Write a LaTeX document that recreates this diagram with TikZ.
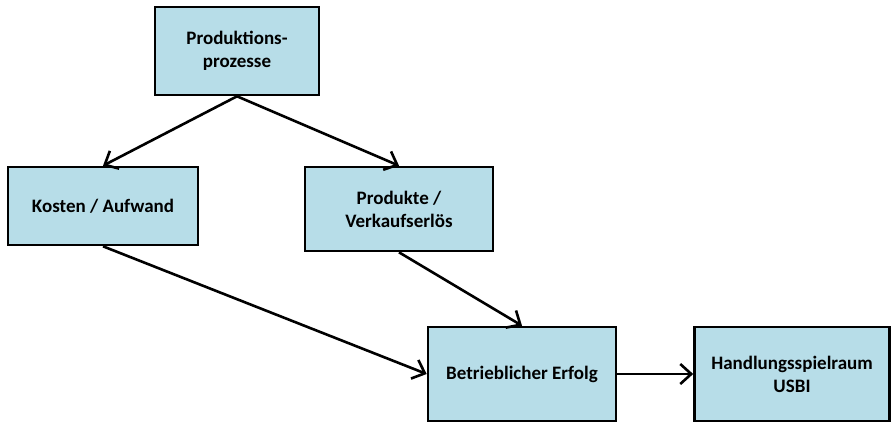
\documentclass[tikz,border=0pt]{standalone}
\usepackage{fontspec}
\setmainfont{Carlito}
\usetikzlibrary{arrows.meta}
\definecolor{boxfill}{HTML}{B7DDE8}
\tikzset{
  box/.style={draw=black, line width=2.6pt, fill=boxfill, rectangle, inner sep=0pt,
    align=center, font=\fontsize{19}{23}\selectfont\bfseries},
  conn/.style={line width=2.6pt, -{Straight Barb[length=11pt,width=20pt,line width=2.6pt]}}
}
\begin{document}
\begin{tikzpicture}[x=1pt,y=-1pt]
\useasboundingbox (0,0) rectangle (891,423);
\node[box, minimum width=164pt, minimum height=88pt] (b1) at (237,51) {Produktions-\\prozesse};
\node[box, minimum width=190pt, minimum height=78pt] (b2) at (103,206) {Kosten / Aufwand};
\node[box, minimum width=188pt, minimum height=84pt] (b3) at (399,209) {Produkte /\\Verkaufserlös};
\node[box, minimum width=188pt, minimum height=94pt] (b4) at (522,374) {Betrieblicher Erfolg};
\node[box, minimum width=195pt, minimum height=94pt] (b5) at (792,374) {Handlungsspielraum\\USBI};
\draw[conn] (b1.south) -- (b2.north);
\draw[conn] (b1.south) -- (b3.north);
\draw[conn] (b2.south) -- (b4.west);
\draw[conn] (b3.south) -- (b4.north);
\draw[conn] (b4.east) -- (b5.west);
\end{tikzpicture}
\end{document}
